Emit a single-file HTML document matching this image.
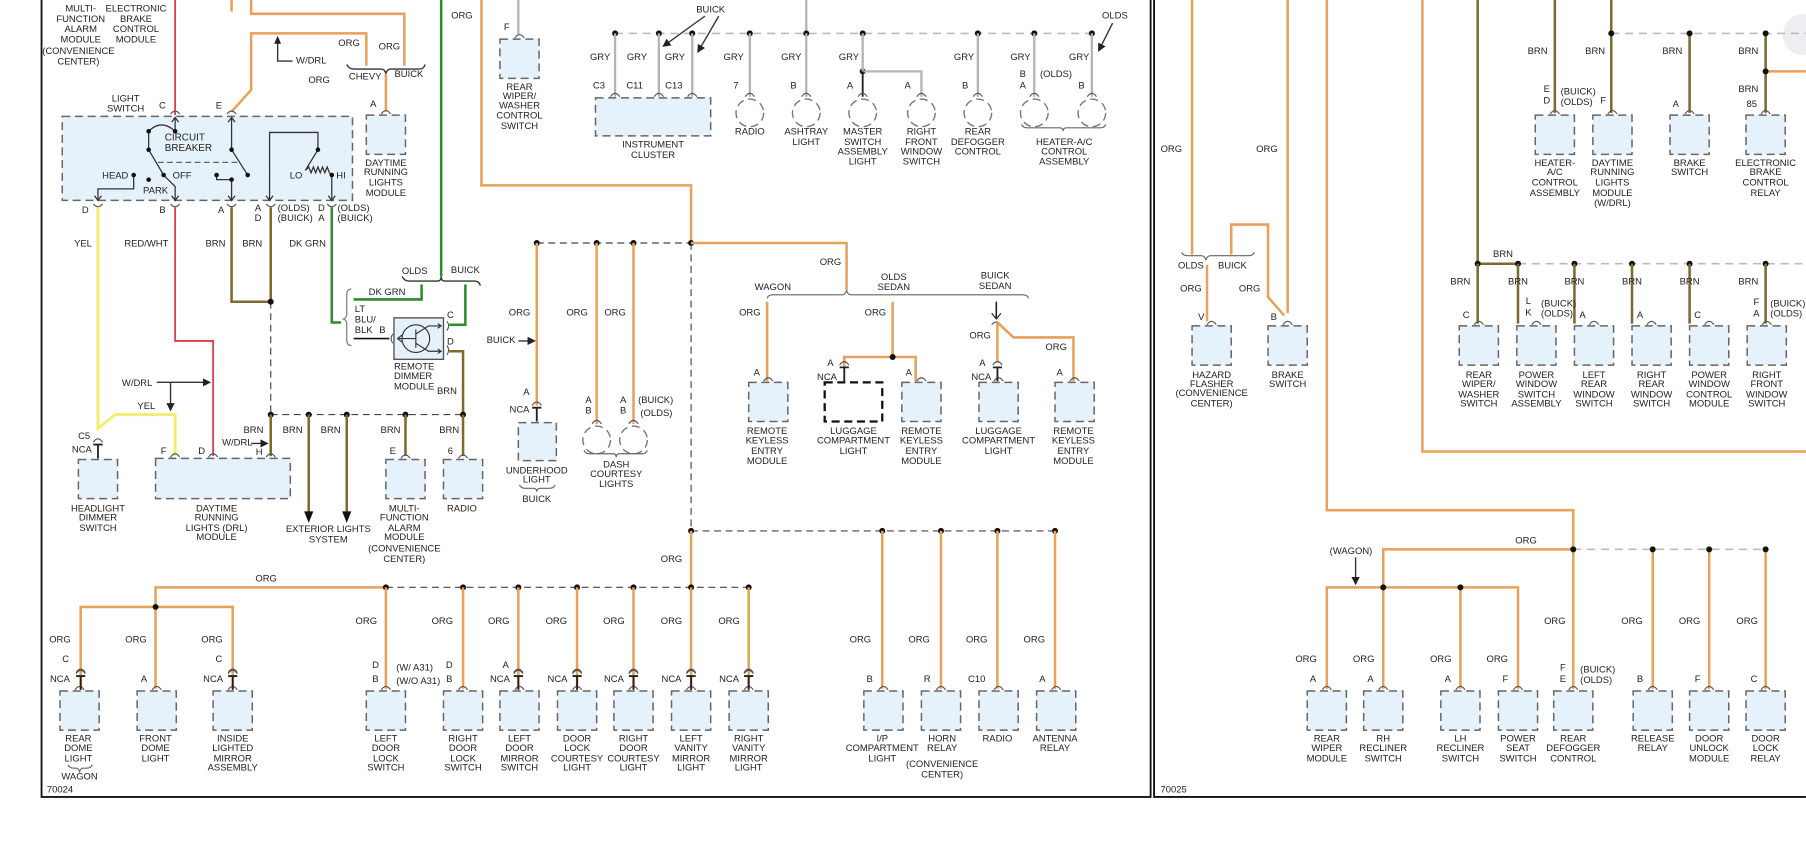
<!DOCTYPE html>
<html><head><meta charset="utf-8"><style>
html,body{margin:0;padding:0;background:#fff;width:1806px;height:858px;overflow:hidden}
svg{display:block}
text{font-family:"Liberation Sans",sans-serif;font-size:8.2px;fill:#222;text-anchor:middle}
.l{text-anchor:start}.r{text-anchor:end}
.o{stroke:#e8a15a;stroke-width:2.2;fill:none}
.br{stroke:#7d6a30;stroke-width:2.2;fill:none}
.g{stroke:#b4b4b4;stroke-width:2;fill:none}
.gn{stroke:#2e8b2e;stroke-width:2.2;fill:none}
.rd{stroke:#d9414a;stroke-width:1.6;fill:none}
.y{stroke:#f2ee70;stroke-width:2.6;fill:none}
.k{stroke:#333;stroke-width:1.2;fill:none}
.kd{stroke:#444;stroke-width:1;fill:none;stroke-dasharray:6 4}
.gd{stroke:#bbb;stroke-width:1.4;fill:none;stroke-dasharray:7 5}
.bx{fill:#e6f2fb;stroke:#666;stroke-width:1.3;stroke-dasharray:7 4}
</style></head><body>
<svg width="1806" height="858" viewBox="0 0 1568 745" xmlns="http://www.w3.org/2000/svg">
<defs>
<g id="b"><rect class="bx" x="-17" y="0" width="34" height="34"/><path d="M-4,-1 Q0,-7 4,-1" stroke="#555" fill="none" stroke-width="1"/></g>
<g id="c"><circle cx="0" cy="13" r="12" fill="#fff" stroke="#777" stroke-width="1.2" stroke-dasharray="7 4"/><path d="M-4,-1 Q0,-7 4,-1" stroke="#555" fill="none" stroke-width="1"/></g>
<g id="nca"><path d="M0,-1 V-13 M-4,-13 H4" stroke="#222" stroke-width="1.6"/><path d="M-4,-15 Q0,-21 4,-15" stroke="#555" fill="none" stroke-width="1"/></g>
<marker id="ar" markerWidth="6" markerHeight="6" refX="5" refY="3" orient="auto"><path d="M0,0 L6,3 L0,6z" fill="#222"/></marker>
</defs>

<rect x="36" y="-3" width="963" height="695" fill="none" stroke="#111" stroke-width="1.6"/>
<path d="M1002,0 V692 H1568" stroke="#111" stroke-width="1.6" fill="none"/>
<circle cx="1566" cy="30" r="18" fill="#eceef2"/>
<text x="52" y="688">70024</text><text x="1019" y="688">70025</text>

<text x="70" y="10">MULTI-</text><text x="70" y="19">FUNCTION</text><text x="70" y="28">ALARM</text><text x="70" y="37">MODULE</text><text x="68" y="47">(CONVENIENCE</text><text x="68" y="56">CENTER)</text>
<text x="118" y="10">ELECTRONIC</text><text x="118" y="19">BRAKE</text><text x="118" y="28">CONTROL</text><text x="118" y="37">MODULE</text>

<path class="rd" d="M152,0 V100"/>
<path class="o" d="M201,0 V10"/>
<path class="o" d="M218,0 V12 H351 V57"/>
<path class="o" d="M201,97 L218,78 V29 H318 V57"/>
<path class="k" d="M241,36 V53 H254"/>
<path d="M241,31 l-3,7 h6z" fill="#222"/>
<text class="l" x="257" y="55">W/DRL</text>
<text x="277" y="72">ORG</text><text x="303" y="40">ORG</text><text x="338" y="43">ORG</text>
<path class="k" d="M301,56 q2,4 6,4 H331 q3,0 4,4 q1,-4 4,-4 H364 q4,0 5,-4" stroke="#555"/>
<text x="317" y="69">CHEVY</text><text x="355" y="67">BUICK</text>
<path class="o" d="M335,64 V97"/>
<text x="324" y="93">A</text>
<use href="#b" x="335" y="100"/>
<text x="335" y="144">DAYTIME</text><text x="335" y="152">RUNNING</text><text x="335" y="161">LIGHTS</text><text x="335" y="170">MODULE</text>

<text x="109" y="88">LIGHT</text><text x="109" y="97">SWITCH</text>
<text x="141" y="94">C</text><text x="190" y="94">E</text>
<rect class="bx" x="54" y="101" width="252" height="73"/>
<path d="M148,99 Q152,94 156,99 M197,99 Q201,94 205,99" stroke="#555" fill="none"/>
<g stroke="#333" stroke-width="1.1" fill="none">
<path d="M129,114 Q140,103 152,114"/><path d="M152,114 V102"/><path d="M149,106 l3,-4 l3,4"/>
<path d="M129,114 V130 L142,152 L152,162 V174"/><path d="M149,170 l3,4 l3,-4"/>
<path d="M116,152 V164 H85 V174"/><path d="M82,170 l3,4 l3,-4"/>
<path d="M201,102 V130 L215,152"/><path d="M198,106 l3,-4 l3,4"/>
<path d="M137,141 H208" stroke-dasharray="5 3" stroke="#666"/>
<path d="M188,152 V156 H201 V174"/><path d="M198,170 l3,4 l3,-4"/>
<path d="M234,174 V115 H276 V130 L265,148 l3,-3 l2,5 l2,-5 l2,5 l2,-5 l2,5 l2,-5 l2,5 l2,-5 l2,5 L288,152 V174"/>
<path d="M231,170 l3,4 l3,-4 M285,170 l3,4 l3,-4"/>
</g>
<g fill="#111"><circle cx="129" cy="114" r="2"/><circle cx="152" cy="114" r="2"/><circle cx="129" cy="130" r="2"/><circle cx="142" cy="152" r="2"/><circle cx="129" cy="156" r="2"/><circle cx="116" cy="152" r="2"/><circle cx="201" cy="130" r="2"/><circle cx="215" cy="152" r="2"/><circle cx="188" cy="152" r="2"/><circle cx="201" cy="156" r="2"/><circle cx="276" cy="130" r="2"/><circle cx="288" cy="152" r="2"/></g>
<text x="143" y="122" class="l" style="font-size:8.6px">CIRCUIT</text><text x="143" y="131" class="l" style="font-size:8.6px">BREAKER</text>
<text x="100" y="155">HEAD</text><text x="158" y="155">OFF</text><text x="135" y="168">PARK</text>
<text x="257" y="155">LO</text><text x="296" y="155">HI</text>
<path d="M81,177 Q85,182 89,177 M148,177 Q152,182 156,177 M197,177 Q201,182 205,177 M231,177 Q235,182 239,177 M284,177 Q288,182 292,177" stroke="#555" fill="none"/>
<text x="74" y="185">D</text><text x="141" y="185">B</text><text x="192" y="185">A</text>
<text x="224" y="183">A</text><text x="224" y="192">D</text><text class="l" x="241" y="183">(OLDS)</text><text class="l" x="241" y="192">(BUICK)</text>
<text x="279" y="183">D</text><text x="279" y="192">A</text><text class="l" x="293" y="183">(OLDS)</text><text class="l" x="293" y="192">(BUICK)</text>

<path class="y" d="M85,180 V372 L100,360 H152 V396"/>
<path class="rd" d="M152,180 V296 H185 V396"/>
<path class="br" d="M201,180 V262 H235"/>
<path class="br" d="M235,180 V262"/>
<path class="kd" d="M235,262 V360"/>
<path class="gn" d="M288,180 V280 H296"/>
<text x="72" y="214">YEL</text><text x="127" y="214">RED/WHT</text><text x="187" y="214">BRN</text><text x="219" y="214">BRN</text><text x="267" y="214">DK GRN</text>
<circle cx="235" cy="262" r="2.6" fill="#111"/>
<text x="119" y="335">W/DRL</text>
<path class="k" d="M136,332 H182" marker-end="url(#ar)"/><path class="k" d="M148,332 V356" marker-end="url(#ar)"/>
<text x="127" y="355">YEL</text>

<path class="gn" d="M383,0 V240"/>
<text x="401" y="16">ORG</text>
<path class="k" d="M349,240 q2,4 6,4 H380 q3,0 3,-4 q0,4 3,4 H412 q4,0 5,4" stroke="#666"/>
<text x="360" y="238">OLDS</text><text x="404" y="237">BUICK</text>
<path class="gn" d="M366,247 V260 H307"/>
<text x="336" y="256">DK GRN</text>
<path class="gn" d="M404,247 V282 H390"/>
<path d="M305,251 q-4,0 -4,5 V273 q0,3 -3,4 q3,1 3,4 V295 q0,5 4,5" stroke="#777" fill="none"/>
<text class="l" x="308" y="271">LT</text><text class="l" x="308" y="280">BLU/</text><text class="l" x="308" y="289">BLK</text><text x="332" y="289">B</text>
<path d="M307,294 H338" stroke="#111" stroke-width="1.4"/>
<rect x="342" y="276" width="43" height="36" fill="#e6f2fb" stroke="#555" stroke-width="1.2"/>
<g stroke="#333" stroke-width="1" fill="none"><circle cx="361" cy="294" r="12"/><path d="M345,294 H361 M361,286 V302 M361,290 L372,283 H382 M361,298 L372,305 H382 M345,294 l4,-3 M345,294 l4,3 M380,281 l3,2 l-3,2 M380,303 l3,2 l-3,2"/></g>
<path d="M341,290 q-3,4 0,8 M388,279 q3,4 0,8 M388,300 q3,4 0,8" stroke="#555" fill="none"/>
<text x="391" y="276">C</text><text x="391" y="299">D</text>
<text class="l" x="342" y="321">REMOTE</text><text class="l" x="342" y="329">DIMMER</text><text class="l" x="342" y="338">MODULE</text><text x="388" y="342">BRN</text>
<path class="br" d="M390,305 H402 V360"/>

<path class="kd" d="M235,360 H402"/>
<g fill="#111"><circle cx="235" cy="360" r="2.6"/><circle cx="268" cy="360" r="2.6"/><circle cx="301" cy="360" r="2.6"/><circle cx="352" cy="360" r="2.6"/><circle cx="402" cy="360" r="2.6"/></g>
<path class="br" d="M235,360 V396 M352,360 V396 M402,360 V396"/>
<path class="br" d="M268,360 V445 M301,360 V445"/>
<path d="M264,444 l4,10 l4,-10z M297,444 l4,10 l4,-10z" fill="#111"/>
<text x="220" y="376">BRN</text><text x="254" y="376">BRN</text><text x="287" y="376">BRN</text><text x="339" y="376">BRN</text><text x="390" y="376">BRN</text>
<text x="206" y="387">W/DRL</text><path class="k" d="M218,385 H232" marker-end="url(#ar)"/>
<text x="225" y="395">H</text><text x="142" y="394">F</text><text x="175" y="394">D</text><text x="341" y="394">E</text><text x="391" y="394">6</text>
<text x="73" y="381">C5</text><text x="71" y="393">NCA</text>
<rect class="bx" x="68" y="399" width="34" height="34"/><use href="#nca" x="85" y="399"/>
<text x="85" y="444">HEADLIGHT</text><text x="85" y="452">DIMMER</text><text x="85" y="461">SWITCH</text>
<rect class="bx" x="135" y="398" width="117" height="35"/>
<path d="M148,397 Q152,391 156,397 M181,397 Q185,391 189,397 M231,397 Q235,391 239,397" stroke="#555" fill="none"/>
<text x="188" y="444">DAYTIME</text><text x="188" y="452">RUNNING</text><text x="188" y="461">LIGHTS (DRL)</text><text x="188" y="469">MODULE</text>
<text x="285" y="462">EXTERIOR LIGHTS</text><text x="285" y="471">SYSTEM</text>
<use href="#b" x="352" y="399"/>
<text x="351" y="444">MULTI-</text><text x="351" y="452">FUNCTION</text><text x="351" y="461">ALARM</text><text x="351" y="469">MODULE</text><text x="351" y="479">(CONVENIENCE</text><text x="351" y="488">CENTER)</text>
<use href="#b" x="402" y="399"/><text x="401" y="444">RADIO</text>

<path class="g" d="M450,0 V30"/>
<text x="440" y="26">F</text>
<use href="#b" x="451" y="34"/>
<text x="451" y="78">REAR</text><text x="451" y="86">WIPER/</text><text x="451" y="94">WASHER</text><text x="451" y="103">CONTROL</text><text x="451" y="112">SWITCH</text>

<path class="o" d="M418,0 V161 H600 V211"/>
<path class="kd" d="M466,211 H600"/>
<g fill="#111"><circle cx="466" cy="211" r="2.6"/><circle cx="518" cy="211" r="2.6"/><circle cx="550" cy="211" r="2.6"/><circle cx="600" cy="211" r="2.6"/></g>
<path class="o" d="M466,211 V352 M518,211 V368 M550,211 V368"/>
<text x="451" y="274">ORG</text><text x="501" y="274">ORG</text><text x="534" y="274">ORG</text>
<text x="435" y="298">BUICK</text><path class="k" d="M450,296 H464" marker-end="url(#ar)"/>
<text x="457" y="343">A</text><text x="451" y="358">NCA</text>
<rect class="bx" x="450" y="367" width="33" height="33"/><use href="#nca" x="466" y="367"/>
<text x="466" y="411">UNDERHOOD</text><text x="466" y="419">LIGHT</text>
<path d="M451,421 q1,3 5,3 H463 q3,0 3,3 q0,-3 3,-3 H477 q4,0 5,-3" stroke="#666" fill="none"/>
<text x="466" y="436">BUICK</text>
<use href="#c" x="518" y="369"/><use href="#c" x="550" y="369"/>
<text x="511" y="350">A</text><text x="511" y="359">B</text><text x="541" y="350">A</text><text x="541" y="359">B</text>
<text class="l" x="554" y="350">(BUICK)</text><text class="l" x="556" y="361">(OLDS)</text>
<path d="M507,391 q1,3 5,3 H532 q3,0 3,3 q0,-3 3,-3 H557 q4,0 5,-3" stroke="#666" fill="none"/>
<text x="535" y="406">DASH</text><text x="535" y="414">COURTESY</text><text x="535" y="423">LIGHTS</text>
<path class="kd" d="M600,211 V461"/>

<path class="g" d="M700,0 V29"/>
<path class="gd" d="M534,29 H950"/>
<g fill="#111"><circle cx="534" cy="29" r="2.6"/><circle cx="572" cy="29" r="2.6"/><circle cx="601" cy="29" r="2.6"/><circle cx="651" cy="29" r="2.6"/><circle cx="700" cy="29" r="2.6"/><circle cx="749" cy="29" r="2.6"/><circle cx="849" cy="29" r="2.6"/><circle cx="898" cy="29" r="2.6"/><circle cx="948" cy="29" r="2.6"/><circle cx="749" cy="62" r="2.6"/></g>
<path class="g" d="M534,29 V84 M572,29 V84 M601,29 V84 M651,29 V84 M700,29 V84 M749,29 V62 M849,29 V84 M898,29 V84 M948,29 V84 M749,62 H800 V84"/>
<path d="M749,62 V84" stroke="#222" stroke-width="1.6"/>
<text x="617" y="11">BUICK</text><path class="k" d="M612,14 L576,40" marker-end="url(#ar)"/><path class="k" d="M624,14 L606,45" marker-end="url(#ar)"/>
<text x="968" y="16">OLDS</text><path class="k" d="M966,20 L954,44" marker-end="url(#ar)"/>
<text x="521" y="52">GRY</text><text x="553" y="52">GRY</text><text x="586" y="52">GRY</text><text x="637" y="52">GRY</text><text x="687" y="52">GRY</text><text x="737" y="52">GRY</text><text x="837" y="52">GRY</text><text x="886" y="52">GRY</text><text x="937" y="52">GRY</text>
<text x="520" y="77">C3</text><text x="551" y="77">C11</text><text x="585" y="77">C13</text><text x="639" y="77">7</text><text x="689" y="77">B</text><text x="738" y="77">A</text><text x="788" y="77">A</text><text x="838" y="77">B</text><text x="888" y="67">B</text><text x="888" y="77">A</text><text class="l" x="903" y="67">(OLDS)</text><text x="939" y="77">B</text>
<rect class="bx" x="517" y="85" width="100" height="33"/>
<path d="M530,84 Q534,78 538,84 M568,84 Q572,78 576,84 M597,84 Q601,78 605,84" stroke="#555" fill="none"/>
<text x="567" y="128">INSTRUMENT</text><text x="567" y="137">CLUSTER</text>
<use href="#c" x="651" y="85"/><use href="#c" x="700" y="85"/><use href="#c" x="749" y="85"/><use href="#c" x="800" y="85"/><use href="#c" x="849" y="85"/><use href="#c" x="898" y="85"/><use href="#c" x="948" y="85"/>
<text x="651" y="117">RADIO</text>
<text x="700" y="117">ASHTRAY</text><text x="700" y="126">LIGHT</text>
<text x="749" y="117">MASTER</text><text x="749" y="126">SWITCH</text><text x="749" y="134">ASSEMBLY</text><text x="749" y="143">LIGHT</text>
<text x="800" y="117">RIGHT</text><text x="800" y="126">FRONT</text><text x="800" y="134">WINDOW</text><text x="800" y="143">SWITCH</text>
<text x="849" y="117">REAR</text><text x="849" y="126">DEFOGGER</text><text x="849" y="134">CONTROL</text>
<path d="M887,108 q1,3 5,3 H920 q3,0 3,3 q0,-3 3,-3 H955 q4,0 5,-3" stroke="#666" fill="none"/>
<text x="924" y="126">HEATER-A/C</text><text x="924" y="134">CONTROL</text><text x="924" y="143">ASSEMBLY</text>

<path class="o" d="M600,211 H735 V252"/>
<text x="721" y="230">ORG</text>
<path d="M666,259 q1,-3 5,-3 H731 q3,0 4,-4 q1,4 4,4 H888 q4,0 5,3" stroke="#666" fill="none"/>
<text x="671" y="252">WAGON</text><text x="776" y="243">OLDS</text><text x="776" y="252">SEDAN</text><text x="864" y="242">BUICK</text><text x="864" y="251">SEDAN</text>
<path class="o" d="M666,262 V331"/>
<text x="651" y="274">ORG</text><text x="657" y="326">A</text>
<use href="#b" x="667" y="332"/>
<path class="o" d="M775,262 V310 M733,319 V310 H795 V331"/>
<circle cx="775" cy="310" r="2.6" fill="#111"/>
<text x="760" y="274">ORG</text>
<text x="721" y="318">A</text><text x="718" y="330">NCA</text><text x="789" y="326">A</text>
<rect x="716" y="332" width="50" height="34" fill="#fff" stroke="#111" stroke-width="2" stroke-dasharray="7 4"/>
<use href="#nca" x="733" y="332"/>
<use href="#b" x="800" y="332"/>
<path d="M865,262 V276" stroke="#222" stroke-width="1.4"/><path d="M861,272 l4,5 l4,-5" stroke="#222" fill="none"/>
<path d="M861,282 Q865,277 869,282" stroke="#555" fill="none"/>
<path class="o" d="M866,280 V315 M866,280 L880,293 H932 V331"/>
<text x="851" y="294">ORG</text><text x="917" y="304">ORG</text>
<text x="853" y="318">A</text><text x="852" y="330">NCA</text><text x="920" y="326">A</text>
<use href="#b" x="867" y="332"/><use href="#nca" x="866" y="332"/>
<use href="#b" x="933" y="332"/>
<text x="666" y="377">REMOTE</text><text x="666" y="385">KEYLESS</text><text x="666" y="394">ENTRY</text><text x="666" y="403">MODULE</text>
<text x="741" y="377">LUGGAGE</text><text x="741" y="385">COMPARTMENT</text><text x="741" y="394">LIGHT</text>
<text x="800" y="377">REMOTE</text><text x="800" y="385">KEYLESS</text><text x="800" y="394">ENTRY</text><text x="800" y="403">MODULE</text>
<text x="867" y="377">LUGGAGE</text><text x="867" y="385">COMPARTMENT</text><text x="867" y="394">LIGHT</text>
<text x="932" y="377">REMOTE</text><text x="932" y="385">KEYLESS</text><text x="932" y="394">ENTRY</text><text x="932" y="403">MODULE</text>

<path class="kd" d="M600,461 H916"/>
<g fill="#111"><circle cx="600" cy="461" r="2.6"/><circle cx="766" cy="461" r="2.6"/><circle cx="817" cy="461" r="2.6"/><circle cx="866" cy="461" r="2.6"/><circle cx="916" cy="461" r="2.6"/></g>
<path class="o" d="M600,461 V510 M766,461 V598 M817,461 V598 M866,461 V598 M916,461 V598"/>
<text x="583" y="488">ORG</text>
<text x="747" y="558">ORG</text><text x="798" y="558">ORG</text><text x="848" y="558">ORG</text><text x="898" y="558">ORG</text>
<text x="755" y="592">B</text><text x="805" y="592">R</text><text x="848" y="592">C10</text><text x="905" y="592">A</text>
<use href="#b" x="767" y="600"/><use href="#b" x="817" y="600"/><use href="#b" x="867" y="600"/><use href="#b" x="917" y="600"/>
<text x="766" y="644">I/P</text><text x="766" y="652">COMPARTMENT</text><text x="766" y="661">LIGHT</text>
<text x="818" y="644">HORN</text><text x="818" y="652">RELAY</text><text x="818" y="666">(CONVENIENCE</text><text x="818" y="675">CENTER)</text>
<text x="866" y="644">RADIO</text>
<text x="916" y="644">ANTENNA</text><text x="916" y="652">RELAY</text>

<path class="kd" d="M335,510 H650"/>
<path class="o" d="M335,510 H135 V527 M70,598 V527 H202 V598 M135,527 V598"/>
<g fill="#111"><circle cx="335" cy="510" r="2.6"/><circle cx="402" cy="510" r="2.6"/><circle cx="450" cy="510" r="2.6"/><circle cx="501" cy="510" r="2.6"/><circle cx="550" cy="510" r="2.6"/><circle cx="600" cy="510" r="2.6"/><circle cx="650" cy="510" r="2.6"/><circle cx="135" cy="527" r="2.6"/></g>
<text x="231" y="505">ORG</text>
<text x="52" y="558">ORG</text><text x="118" y="558">ORG</text><text x="184" y="558">ORG</text>
<text x="57" y="575">C</text><text x="52" y="592">NCA</text><text x="125" y="592">A</text><text x="190" y="575">C</text><text x="185" y="592">NCA</text>
<path d="M66,584 Q70,578 74,584 M198,584 Q202,578 206,584" stroke="#555" fill="none"/>
<use href="#b" x="69" y="600"/><use href="#nca" x="70" y="600"/>
<use href="#b" x="136" y="600"/>
<use href="#b" x="202" y="600"/><use href="#nca" x="202" y="600"/>
<text x="68" y="644">REAR</text><text x="68" y="652">DOME</text><text x="68" y="661">LIGHT</text>
<path d="M59,664 q1,3 5,3 H66 q2,0 3,3 q1,-3 3,-3 H75 q4,0 5,-3" stroke="#666" fill="none"/>
<text x="69" y="677">WAGON</text>
<text x="135" y="644">FRONT</text><text x="135" y="652">DOME</text><text x="135" y="661">LIGHT</text>
<text x="202" y="644">INSIDE</text><text x="202" y="652">LIGHTED</text><text x="202" y="661">MIRROR</text><text x="202" y="669">ASSEMBLY</text>
<path class="o" d="M335,510 V598 M402,510 V598 M450,510 V598 M501,510 V598 M550,510 V598 M600,510 V598 M650,510 V598"/>
<text x="318" y="542">ORG</text><text x="384" y="542">ORG</text><text x="433" y="542">ORG</text><text x="483" y="542">ORG</text><text x="533" y="542">ORG</text><text x="583" y="542">ORG</text><text x="633" y="542">ORG</text>
<text x="326" y="580">D</text><text x="326" y="592">B</text><text class="l" x="344" y="582">(W/ A31)</text><text class="l" x="344" y="594">(W/O A31)</text>
<text x="390" y="580">D</text><text x="390" y="592">B</text>
<text x="439" y="580">A</text><text x="434" y="592">NCA</text><text x="484" y="592">NCA</text><text x="533" y="592">NCA</text><text x="583" y="592">NCA</text><text x="633" y="592">NCA</text>
<path d="M446,584 Q450,578 454,584 M497,584 Q501,578 505,584 M546,584 Q550,578 554,584 M596,584 Q600,578 604,584 M646,584 Q650,578 654,584" stroke="#555" fill="none"/>
<use href="#b" x="335" y="600"/><use href="#b" x="402" y="600"/>
<use href="#b" x="451" y="600"/><use href="#nca" x="450" y="600"/>
<use href="#b" x="501" y="600"/><use href="#nca" x="501" y="600"/>
<use href="#b" x="550" y="600"/><use href="#nca" x="550" y="600"/>
<use href="#b" x="600" y="600"/><use href="#nca" x="600" y="600"/>
<use href="#b" x="650" y="600"/><use href="#nca" x="650" y="600"/>
<text x="335" y="644">LEFT</text><text x="335" y="652">DOOR</text><text x="335" y="661">LOCK</text><text x="335" y="669">SWITCH</text>
<text x="402" y="644">RIGHT</text><text x="402" y="652">DOOR</text><text x="402" y="661">LOCK</text><text x="402" y="669">SWITCH</text>
<text x="451" y="644">LEFT</text><text x="451" y="652">DOOR</text><text x="451" y="661">MIRROR</text><text x="451" y="669">SWITCH</text>
<text x="501" y="644">DOOR</text><text x="501" y="652">LOCK</text><text x="501" y="661">COURTESY</text><text x="501" y="669">LIGHT</text>
<text x="550" y="644">RIGHT</text><text x="550" y="652">DOOR</text><text x="550" y="661">COURTESY</text><text x="550" y="669">LIGHT</text>
<text x="600" y="644">LEFT</text><text x="600" y="652">VANITY</text><text x="600" y="661">MIRROR</text><text x="600" y="669">LIGHT</text>
<text x="650" y="644">RIGHT</text><text x="650" y="652">VANITY</text><text x="650" y="661">MIRROR</text><text x="650" y="669">LIGHT</text>

<path class="o" d="M1035,0 V221"/>
<path class="o" d="M1118,0 V272"/>
<path class="o" d="M1069,221 V195 H1101 V258 L1115,274"/>
<path class="o" d="M1048,230 V279"/>
<text x="1017" y="132">ORG</text><text x="1100" y="132">ORG</text>
<path d="M1026,219 q1,3 5,3 H1043 q3,0 4,4 q1,-4 4,-4 H1084 q4,0 5,-3" stroke="#666" fill="none"/>
<text x="1034" y="233">OLDS</text><text x="1070" y="233">BUICK</text>
<text x="1034" y="253">ORG</text><text x="1085" y="253">ORG</text>
<text x="1043" y="278">V</text><text x="1106" y="278">B</text>
<use href="#b" x="1052" y="283"/><use href="#b" x="1118" y="283"/>
<text x="1052" y="328">HAZARD</text><text x="1052" y="336">FLASHER</text><text x="1052" y="344">(CONVENIENCE</text><text x="1052" y="353">CENTER)</text>
<text x="1118" y="328">BRAKE</text><text x="1118" y="336">SWITCH</text>

<path class="o" d="M1152,0 V443 H1366 V598"/>
<path class="o" d="M1235,0 V392 H1568"/>
<path class="br" d="M1283,0 V229 H1318"/>
<path class="br" d="M1350,0 V98 M1399,0 V98 M1467,29 V98 M1533,29 V98"/>
<path class="gd" d="M1399,29 H1568 M1318,229 H1568"/>
<path class="o" d="M1533,62 H1568"/>
<g fill="#111"><circle cx="1399" cy="29" r="2.6"/><circle cx="1467" cy="29" r="2.6"/><circle cx="1533" cy="29" r="2.6"/><circle cx="1533" cy="62" r="2.6"/></g>
<text x="1335" y="47">BRN</text><text x="1385" y="47">BRN</text><text x="1452" y="47">BRN</text><text x="1518" y="47">BRN</text><text x="1518" y="80">BRN</text>
<text x="1343" y="80">E</text><text x="1343" y="90">D</text><text class="l" x="1355" y="82">(BUICK)</text><text class="l" x="1355" y="91">(OLDS)</text>
<text x="1392" y="90">F</text><text x="1455" y="93">A</text><text x="1521" y="93">85</text>
<use href="#b" x="1350" y="100"/><use href="#b" x="1400" y="100"/><use href="#b" x="1467" y="100"/><use href="#b" x="1533" y="100"/>
<text x="1350" y="144">HEATER-</text><text x="1350" y="152">A/C</text><text x="1350" y="161">CONTROL</text><text x="1350" y="170">ASSEMBLY</text>
<text x="1400" y="144">DAYTIME</text><text x="1400" y="152">RUNNING</text><text x="1400" y="161">LIGHTS</text><text x="1400" y="170">MODULE</text><text x="1400" y="179">(W/DRL)</text>
<text x="1467" y="144">BRAKE</text><text x="1467" y="152">SWITCH</text>
<text x="1533" y="144">ELECTRONIC</text><text x="1533" y="152">BRAKE</text><text x="1533" y="161">CONTROL</text><text x="1533" y="170">RELAY</text>

<g fill="#111"><circle cx="1283" cy="229" r="2.6"/><circle cx="1318" cy="229" r="2.6"/><circle cx="1367" cy="229" r="2.6"/><circle cx="1417" cy="229" r="2.6"/><circle cx="1467" cy="229" r="2.6"/><circle cx="1533" cy="229" r="2.6"/></g>
<path class="br" d="M1283,229 V281 M1318,229 V281 M1367,229 V281 M1417,229 V281 M1467,229 V281 M1533,229 V281"/>
<text x="1305" y="223">BRN</text>
<text x="1268" y="247">BRN</text><text x="1318" y="247">BRN</text><text x="1367" y="247">BRN</text><text x="1417" y="247">BRN</text><text x="1467" y="247">BRN</text><text x="1518" y="247">BRN</text>
<text x="1273" y="276">C</text><text x="1327" y="264">L</text><text x="1327" y="274">K</text><text class="l" x="1338" y="266">(BUICK)</text><text class="l" x="1338" y="275">(OLDS)</text>
<text x="1374" y="276">A</text><text x="1424" y="276">A</text><text x="1474" y="276">C</text><text x="1525" y="265">F</text><text x="1525" y="275">A</text><text class="l" x="1537" y="266">(BUICK)</text><text class="l" x="1537" y="275">(OLDS)</text>
<use href="#b" x="1284" y="283"/><use href="#b" x="1334" y="283"/><use href="#b" x="1384" y="283"/><use href="#b" x="1434" y="283"/><use href="#b" x="1484" y="283"/><use href="#b" x="1534" y="283"/>
<text x="1284" y="328">REAR</text><text x="1284" y="336">WIPER/</text><text x="1284" y="345">WASHER</text><text x="1284" y="353">SWITCH</text>
<text x="1334" y="328">POWER</text><text x="1334" y="336">WINDOW</text><text x="1334" y="345">SWITCH</text><text x="1334" y="353">ASSEMBLY</text>
<text x="1384" y="328">LEFT</text><text x="1384" y="336">REAR</text><text x="1384" y="345">WINDOW</text><text x="1384" y="353">SWITCH</text>
<text x="1434" y="328">RIGHT</text><text x="1434" y="336">REAR</text><text x="1434" y="345">WINDOW</text><text x="1434" y="353">SWITCH</text>
<text x="1484" y="328">POWER</text><text x="1484" y="336">WINDOW</text><text x="1484" y="345">CONTROL</text><text x="1484" y="353">MODULE</text>
<text x="1534" y="328">RIGHT</text><text x="1534" y="336">FRONT</text><text x="1534" y="345">WINDOW</text><text x="1534" y="353">SWITCH</text>

<path class="o" d="M1366,477 H1201 V510 M1152,598 V510 H1318 V598 M1201,510 V598 M1268,510 V598"/>
<path class="gd" d="M1366,477 H1533"/>
<path class="o" d="M1435,477 V598 M1484,477 V598 M1533,477 V598"/>
<g fill="#111"><circle cx="1366" cy="477" r="2.6"/><circle cx="1435" cy="477" r="2.6"/><circle cx="1484" cy="477" r="2.6"/><circle cx="1533" cy="477" r="2.6"/><circle cx="1201" cy="510" r="2.6"/><circle cx="1268" cy="510" r="2.6"/></g>
<text x="1325" y="472">ORG</text>
<text x="1173" y="481">(WAGON)</text><path class="k" d="M1177,484 V507" marker-end="url(#ar)"/>
<text x="1134" y="575">ORG</text><text x="1184" y="575">ORG</text><text x="1251" y="575">ORG</text><text x="1300" y="575">ORG</text>
<text x="1350" y="542">ORG</text><text x="1417" y="542">ORG</text><text x="1467" y="542">ORG</text><text x="1517" y="542">ORG</text>
<text x="1140" y="592">A</text><text x="1190" y="592">A</text><text x="1257" y="592">A</text><text x="1307" y="592">F</text>
<text x="1357" y="582">F</text><text x="1357" y="592">E</text><text class="l" x="1372" y="584">(BUICK)</text><text class="l" x="1372" y="593">(OLDS)</text>
<text x="1424" y="592">B</text><text x="1474" y="592">F</text><text x="1523" y="592">C</text>
<use href="#b" x="1152" y="600"/><use href="#b" x="1201" y="600"/><use href="#b" x="1268" y="600"/><use href="#b" x="1318" y="600"/><use href="#b" x="1366" y="600"/><use href="#b" x="1435" y="600"/><use href="#b" x="1484" y="600"/><use href="#b" x="1533" y="600"/>
<text x="1152" y="644">REAR</text><text x="1152" y="652">WIPER</text><text x="1152" y="661">MODULE</text>
<text x="1201" y="644">RH</text><text x="1201" y="652">RECLINER</text><text x="1201" y="661">SWITCH</text>
<text x="1268" y="644">LH</text><text x="1268" y="652">RECLINER</text><text x="1268" y="661">SWITCH</text>
<text x="1318" y="644">POWER</text><text x="1318" y="652">SEAT</text><text x="1318" y="661">SWITCH</text>
<text x="1366" y="644">REAR</text><text x="1366" y="652">DEFOGGER</text><text x="1366" y="661">CONTROL</text>
<text x="1435" y="644">RELEASE</text><text x="1435" y="652">RELAY</text>
<text x="1484" y="644">DOOR</text><text x="1484" y="652">UNLOCK</text><text x="1484" y="661">MODULE</text>
<text x="1533" y="644">DOOR</text><text x="1533" y="652">LOCK</text><text x="1533" y="661">RELAY</text>
</svg>
</body></html>
